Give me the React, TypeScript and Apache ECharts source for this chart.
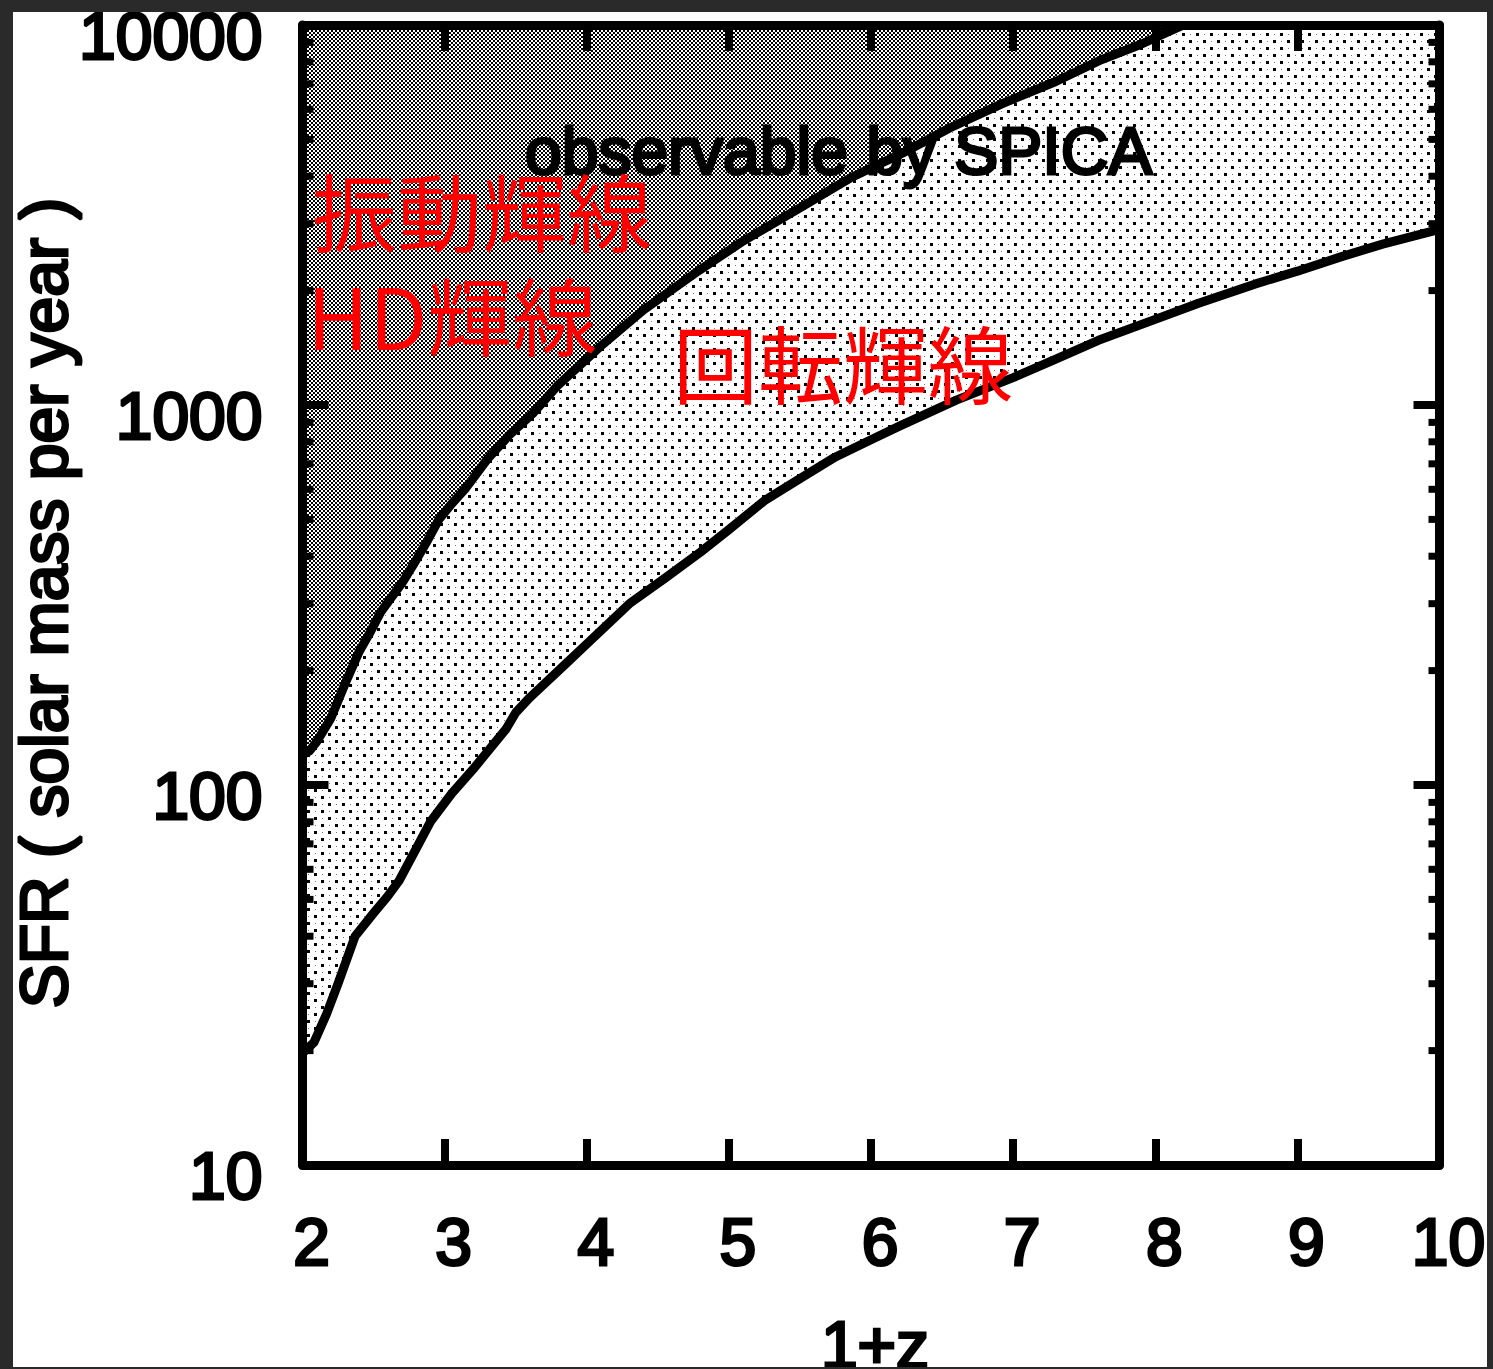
import React, { useEffect, useRef } from 'react';
import * as echarts from 'echarts';

// Axis ranges and tick values
const xTicks = [2, 3, 4, 5, 6, 7, 8, 9, 10];
const yTicks = [10, 100, 1000, 10000];
const yMinorTicks = [
  20, 30, 40, 50, 60, 70, 80, 90,
  200, 300, 400, 500, 600, 700, 800, 900,
  2000, 3000, 4000, 5000, 6000, 7000, 8000, 9000,
];

// Lower boundary: minimum SFR detectable in rotational lines, vs 1+z
const rotationalLimit: [number, number][] = [
  [2.0, 19.7], [2.08, 21], [2.17, 25], [2.25, 30], [2.37, 40], [2.5, 46],
  [2.6, 51], [2.68, 56], [2.8, 68], [2.9, 80], [3.05, 95], [3.2, 110],
  [3.43, 140], [3.5, 155], [3.6, 170], [3.85, 208], [4.0, 235], [4.3, 300],
  [4.55, 350], [4.8, 410], [5.0, 470], [5.25, 560], [5.5, 640], [5.75, 730],
  [6.0, 810], [6.2, 880], [6.6, 1030], [7.0, 1180], [7.3, 1320], [7.6, 1480],
  [8.0, 1680], [8.3, 1850], [8.7, 2080], [9.0, 2250], [9.3, 2450], [9.6, 2650],
  [10.0, 2900],
];

// Upper boundary: minimum SFR detectable in vibrational / HD lines, vs 1+z
const vibrationalLimit: [number, number][] = [
  [2.0, 120], [2.05, 123], [2.1, 130], [2.2, 150], [2.3, 185], [2.4, 225],
  [2.47, 250], [2.55, 285], [2.61, 306], [2.7, 340], [2.78, 380], [2.88, 440],
  [2.96, 500], [3.05, 550], [3.15, 605], [3.3, 720], [3.45, 830], [3.62, 950],
  [3.8, 1130], [4.09, 1420], [4.4, 1780], [4.79, 2260], [5.1, 2700], [5.5, 3300],
  [5.85, 3950], [6.22, 4600], [6.55, 5350], [6.92, 6200], [7.3, 7100], [7.62, 8100],
  [7.9, 8900], [8.12, 9700], [8.2, 10000],
];

const LATIN = '"Liberation Sans", Arial, Helvetica, sans-serif';
const CJK = '"Noto Sans CJK JP", "Noto Sans CJK SC", sans-serif';

// Builds a small repeating bitmap tile for the halftone fills
function makeTile(size: number, draw: (ctx: CanvasRenderingContext2D) => void): string {
  const c = document.createElement('canvas');
  c.width = size;
  c.height = size;
  const ctx = c.getContext('2d')!;
  ctx.fillStyle = '#ffffff';
  ctx.fillRect(0, 0, size, size);
  draw(ctx);
  return c.toDataURL();
}

export default function App() {
  const ref = useRef<HTMLDivElement>(null);

  useEffect(() => {
    if (!ref.current) return;
    const chart = echarts.init(ref.current, null, { renderer: 'svg' });

    const denseTile = makeTile(4, (ctx) => {
      ctx.fillStyle = '#000';
      ctx.fillRect(0, 0, 2, 2);
      ctx.fillRect(2, 2, 2, 2);
    });
    const sparseTile = makeTile(14, (ctx) => {
      ctx.fillStyle = '#000';
      ctx.fillRect(0, 0, 3, 3);
      ctx.fillRect(7, 7, 3, 3);
      ctx.fillStyle = '#777';
      ctx.fillRect(8, 1, 1, 1);
      ctx.fillRect(1, 8, 1, 1);
    });

    const xMin = xTicks[0];
    const xMax = xTicks[xTicks.length - 1];
    const yMin = yTicks[0];
    const yMax = yTicks[yTicks.length - 1];

    const axisLineStyle = { color: '#000', width: 9, cap: 'round' as const };
    const tickStyle = { color: '#000', width: 8 };

    const option: any = {
      animation: false,
      backgroundColor: '#ffffff',
      grid: {
        left: 289.5, top: 13, width: 1137, height: 1140,
        containLabel: false, outerBoundsMode: 'none',
      },
      xAxis: [
        {
          type: 'value', min: xMin, max: xMax, interval: 1, position: 'bottom', z: 10,
          axisLine: { onZero: false, lineStyle: axisLineStyle },
          axisTick: { inside: true, length: 26, lineStyle: tickStyle },
          axisLabel: {
            color: '#000', fontSize: 66, fontFamily: LATIN, margin: 44,
            padding: [0, 0, 0, 18], textBorderColor: '#000', textBorderWidth: 3,
            formatter: (v: number) => String(Math.round(v)),
          },
          splitLine: { show: false },
        },
        {
          type: 'value', min: xMin, max: xMax, interval: 1, position: 'top', z: 10,
          axisLine: { onZero: false, lineStyle: axisLineStyle },
          axisTick: { inside: true, length: 26, lineStyle: tickStyle },
          axisLabel: { show: false },
          splitLine: { show: false },
        },
      ],
      yAxis: [
        {
          type: 'log', logBase: 10, min: yMin, max: yMax, position: 'left', z: 10,
          axisLine: { onZero: false, lineStyle: axisLineStyle },
          axisTick: { inside: true, length: 26, lineStyle: tickStyle },
          axisLabel: {
            color: '#000', fontSize: 66, fontFamily: LATIN, margin: 40,
            verticalAlign: 'top', lineHeight: 22,
            textBorderColor: '#000', textBorderWidth: 3,
            formatter: (v: number) => String(Math.round(v)),
          },
          splitLine: { show: false },
        },
        {
          type: 'log', logBase: 10, min: yMin, max: yMax, position: 'right', z: 10,
          axisLine: { onZero: false, lineStyle: axisLineStyle },
          axisTick: { inside: true, length: 26, lineStyle: tickStyle },
          axisLabel: { show: false },
          splitLine: { show: false },
        },
      ],
      series: [
        {
          name: 'rotational',
          type: 'line',
          data: rotationalLimit,
          showSymbol: false,
          z: 2,
          lineStyle: { color: '#000', width: 9, join: 'round' },
          areaStyle: {
            origin: yMax,
            opacity: 1,
            color: { image: sparseTile, repeat: 'repeat', imageWidth: 14, imageHeight: 14 },
          },
        },
        {
          name: 'vibrational',
          type: 'line',
          data: vibrationalLimit,
          showSymbol: false,
          z: 3,
          lineStyle: { color: '#000', width: 9, join: 'round' },
          areaStyle: {
            origin: yMax,
            opacity: 1,
            color: { image: denseTile, repeat: 'repeat', imageWidth: 4, imageHeight: 4 },
          },
        },
        {
          name: 'minorTicks',
          type: 'custom',
          coordinateSystem: 'cartesian2d',
          silent: true,
          z: 6,
          clip: false,
          data: yMinorTicks.map((v) => [xMin, v]),
          renderItem: (_params: any, api: any) => {
            const v = api.value(1);
            const l = api.coord([xMin, v]);
            const r = api.coord([xMax, v]);
            const style = { stroke: '#000', lineWidth: 7 };
            return {
              type: 'group',
              children: [
                { type: 'line', shape: { x1: l[0], y1: l[1], x2: l[0] + 11, y2: l[1] }, style },
                { type: 'line', shape: { x1: r[0] - 11, y1: r[1], x2: r[0], y2: r[1] }, style },
              ],
            };
          },
        },
      ],
      graphic: [
        {
          type: 'text', x: 31, y: 591, rotation: Math.PI / 2, z: 100,
          style: {
            text: 'SFR ( solar mass per year )', font: `66px ${LATIN}`, fill: '#000',
            stroke: '#000', lineWidth: 3, textAlign: 'center', textVerticalAlign: 'middle',
          },
        },
        {
          type: 'text', x: 862, y: 1333, z: 100,
          style: {
            text: '1+z', font: `66px ${LATIN}`, fill: '#000', stroke: '#000', lineWidth: 3,
            textAlign: 'center', textVerticalAlign: 'middle',
          },
        },
        {
          type: 'text', x: 512, y: 139, z: 100,
          style: {
            text: 'observable by SPICA', font: `66px ${LATIN}`, fill: '#000', stroke: '#000',
            lineWidth: 3, textAlign: 'left', textVerticalAlign: 'middle',
          },
        },
        {
          type: 'text', x: 299, y: 196, z: 101,
          style: { text: '振動輝線', font: `85px ${CJK}`, fill: '#ff0000', textAlign: 'left', textVerticalAlign: 'middle' },
        },
        {
          type: 'text', x: 294, y: 300, z: 101,
          style: { text: 'HD輝線', font: `85px ${CJK}`, fill: '#ff0000', textAlign: 'left', textVerticalAlign: 'middle' },
        },
        {
          type: 'text', x: 660, y: 348, z: 101,
          style: { text: '回転輝線', font: `85px ${CJK}`, fill: '#ff0000', textAlign: 'left', textVerticalAlign: 'middle' },
        },
      ],
    };

    chart.setOption(option);
    return () => chart.dispose();
  }, []);

  return (
    <div style={{ position: 'fixed', left: 0, top: 0, width: 1493, height: 1369, background: '#2a2a2a', overflow: 'hidden' }}>
      <div
        ref={ref}
        style={{ position: 'absolute', left: 13, top: 12, width: 1474, height: 1355, background: '#ffffff', overflow: 'hidden' }}
      />
    </div>
  );
}
